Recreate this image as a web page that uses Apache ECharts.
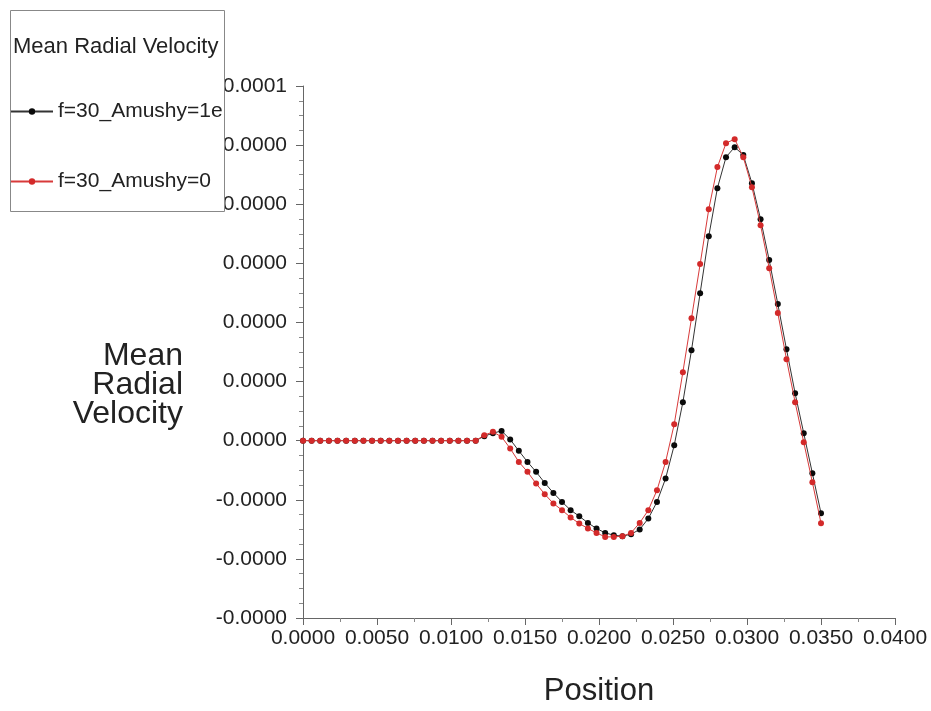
<!DOCTYPE html>
<html>
<head>
<meta charset="utf-8">
<script src="https://cdn.jsdelivr.net/npm/echarts@6/dist/echarts.min.js"></script>
<style>
  html, body { margin: 0; padding: 0; background: #fff; }
  #chart { width: 931px; height: 711px; }
</style>
</head>
<body>
<div id="chart"></div>
<script>
// Sample positions along the line (m)
const positions = [
  0, 0.000583, 0.001167, 0.00175, 0.002333, 0.002917, 0.0035, 0.004083, 0.004667, 0.00525,
  0.005833, 0.006417, 0.007, 0.007583, 0.008167, 0.00875, 0.009333, 0.009917, 0.0105, 0.011083,
  0.011667, 0.01225, 0.012833, 0.013417, 0.014, 0.014583, 0.015167, 0.01575, 0.016333, 0.016917,
  0.0175, 0.018083, 0.018667, 0.01925, 0.019833, 0.020417, 0.021, 0.021583, 0.022167, 0.02275,
  0.023333, 0.023917, 0.0245, 0.025083, 0.025667, 0.02625, 0.026833, 0.027417, 0.028, 0.028583,
  0.029167, 0.02975, 0.030333, 0.030917, 0.0315, 0.032083, 0.032667, 0.03325, 0.033833, 0.034417,
  0.035
];

// Mean radial velocity, in units of 1e-6 m/s
const VEL_SCALE = 1e-6;

const velAmushy1e5 = [
  0, 0, 0, 0, 0, 0, 0, 0, 0, 0,
  0, 0, 0, 0, 0, 0, 0, 0, 0, 0,
  0, 0.69, 1.14, 1.49, 0.18, -1.55, -3.23, -4.75, -6.43, -7.95,
  -9.32, -10.58, -11.50, -12.52, -13.37, -14.04, -14.39, -14.54, -14.24, -13.52,
  -11.85, -9.32, -5.76, -0.69, 5.86, 13.78, 22.46, 31.14, 38.45, 43.17,
  44.69, 43.48, 39.21, 33.73, 27.49, 20.79, 13.93, 7.23, 1.14, -4.95,
  -11.04
];

const velAmushy0 = [
  0, 0, 0, 0, 0, 0, 0, 0, 0, 0,
  0, 0, 0, 0, 0, 0, 0, 0, 0, 0,
  0, 0.84, 1.34, 0.58, -1.19, -3.23, -4.75, -6.52, -8.15, -9.56,
  -10.58, -11.69, -12.61, -13.37, -14.04, -14.65, -14.65, -14.54, -14.04, -12.52,
  -10.58, -7.54, -3.23, 2.51, 10.43, 18.65, 26.88, 35.25, 41.65, 45.30,
  45.91, 43.17, 38.60, 32.81, 26.27, 19.42, 12.41, 5.86, -0.23, -6.32,
  -12.56
];

const seriesNames = ['f=30_Amushy=1e5', 'f=30_Amushy=0'];
const legendTitle = 'Mean Radial Velocity';
const yAxisTitle = 'Mean\nRadial\nVelocity';
const xAxisTitle = 'Position';

const FONT = '"Liberation Sans", Arial, Helvetica, sans-serif';

function pairs(ys) {
  return positions.map((x, i) => [x, ys[i]]);
}

const chart = echarts.init(document.getElementById('chart'), null, { renderer: 'canvas' });

chart.setOption({
  animation: false,
  backgroundColor: '#ffffff',
  grid: {
    left: 303, right: 36, top: 86, bottom: 93,
    containLabel: false,
    outerBoundsMode: 'none'
  },
  xAxis: {
    type: 'value',
    min: 0, max: 0.04, interval: 0.005,
    name: xAxisTitle,
    nameLocation: 'middle',
    nameGap: 58,
    nameTextStyle: { fontFamily: FONT, fontSize: 31, color: '#222' },
    axisLine: { show: true, onZero: false, lineStyle: { color: '#666', width: 1 } },
    axisTick: { show: true, inside: false, length: 7, lineStyle: { color: '#666' } },
    minorTick: { show: true, splitNumber: 2, length: 4, lineStyle: { color: '#888' } },
    splitLine: { show: false },
    axisLabel: {
      margin: 10,
      fontFamily: FONT, fontSize: 21, color: '#222',
      formatter: v => v.toFixed(4)
    }
  },
  yAxis: {
    type: 'value',
    min: -27, max: 54, interval: 9,
    axisLine: { show: true, onZero: false, lineStyle: { color: '#666', width: 1 } },
    axisTick: { show: true, inside: false, length: 7, lineStyle: { color: '#666' } },
    minorTick: { show: true, splitNumber: 4, length: 4, lineStyle: { color: '#888' } },
    splitLine: { show: false },
    axisLabel: {
      margin: 16,
      fontFamily: FONT, fontSize: 21, color: '#222',
      formatter: v => (v * VEL_SCALE).toFixed(4)
    }
  },
  legend: {
    orient: 'vertical',
    left: 10, top: 101,
    padding: 0,
    itemWidth: 42, itemHeight: 8, itemGap: 49,
    z: 12,
    textStyle: {
      fontFamily: FONT, fontSize: 21, color: '#222',
      width: 167, overflow: 'truncate', ellipsis: ''
    },
    data: seriesNames
  },
  graphic: [
    {
      type: 'rect', z: 10,
      shape: { x: 10.5, y: 10.5, width: 214, height: 201 },
      style: { fill: '#ffffff', stroke: '#888888', lineWidth: 1 }
    },
    {
      type: 'text', z: 11,
      left: 13, top: 36,
      style: { text: legendTitle, fontFamily: FONT, fontSize: 22, fill: '#222' }
    },
    {
      type: 'text', z: 11,
      style: {
        text: yAxisTitle, x: 183, y: 385,
        align: 'right', verticalAlign: 'middle',
        fontFamily: FONT, fontSize: 32, lineHeight: 29, fill: '#222'
      }
    }
  ],
  series: [
    {
      name: seriesNames[0],
      type: 'line',
      data: pairs(velAmushy1e5),
      symbol: 'circle', symbolSize: 6, showSymbol: true,
      itemStyle: { color: '#0a0a0a' },
      lineStyle: { color: '#333333', width: 1 },
      z: 2
    },
    {
      name: seriesNames[1],
      type: 'line',
      data: pairs(velAmushy0),
      symbol: 'circle', symbolSize: 6, showSymbol: true,
      itemStyle: { color: '#d32a2a' },
      lineStyle: { color: '#d83a3a', width: 1 },
      z: 3
    }
  ]
});
</script>
</body>
</html>
